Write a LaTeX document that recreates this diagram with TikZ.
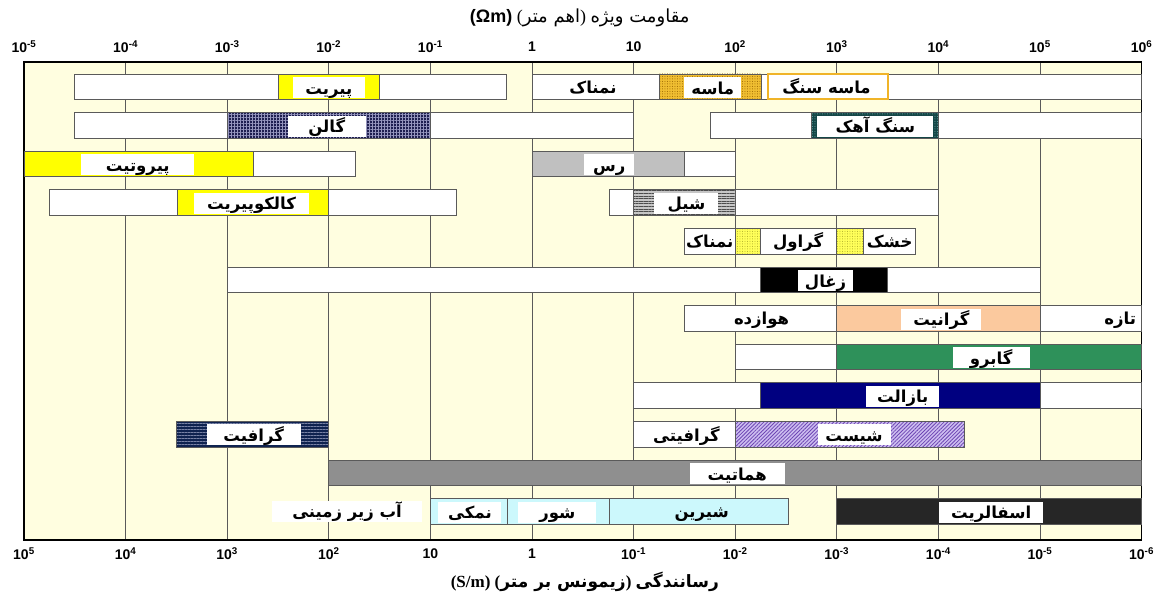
\documentclass[tikz,border=0pt]{standalone}
\usepackage{fontspec}
\setmainfont{Liberation Serif}
\setsansfont{Liberation Sans}
\newfontfamily\fa[Script=Arabic]{DejaVu Sans}
\usetikzlibrary{patterns.meta}
\TeXXeTstate=1

\definecolor{cream}{RGB}{255,254,224}
\definecolor{barline}{RGB}{90,90,90}
\definecolor{pyr}{RGB}{255,255,0}
\definecolor{sand}{RGB}{240,190,50}
\definecolor{sanddot}{RGB}{150,100,0}
\definecolor{sandline}{RGB}{240,180,40}
\definecolor{galena}{RGB}{30,30,80}
\definecolor{galgrid}{RGB}{150,150,190}
\definecolor{lime}{RGB}{20,70,70}
\definecolor{limedot}{RGB}{110,170,170}
\definecolor{clay}{RGB}{192,192,192}
\definecolor{gravel}{RGB}{255,255,90}
\definecolor{graveldot}{RGB}{170,170,40}
\definecolor{granite}{RGB}{251,201,158}
\definecolor{gabbro}{RGB}{46,145,90}
\definecolor{basalt}{RGB}{0,0,128}
\definecolor{graphite}{RGB}{15,35,80}
\definecolor{graphline}{RGB}{120,130,165}
\definecolor{schist}{RGB}{205,190,240}
\definecolor{schline}{RGB}{110,70,180}
\definecolor{hematite}{RGB}{143,143,143}
\definecolor{water}{RGB}{204,248,252}
\definecolor{sphal}{RGB}{38,38,38}

% persian text, right to left
\newcommand{\fatext}[1]{{\fa\bfseries\beginR #1\endR}}
% one bar segment: row, from, to (decades)
\newcommand{\seg}[4][]{\draw[bar,#1] (#3,#2) rectangle (#4,{#2+0.66});}

\begin{document}
\begin{tikzpicture}[x=101.6pt, y=-38.6pt,
  bar/.style={draw=barline, line width=0.7pt},
  lbl/.style={fill=white, inner sep=1pt, minimum height=21pt, text height=15pt, text depth=2pt,
    font=\fontsize{16.5}{18}\selectfont},
  txt/.style={inner sep=1pt, text height=15pt, text depth=2pt, font=\fontsize{16.5}{18}\selectfont},
  tick/.style={font=\sffamily\bfseries\fontsize{14}{16}\selectfont},
  sandseg/.style={preaction={fill=sand}, pattern={Dots[distance=2.5pt,radius=0.5pt]}, pattern color=sanddot},
  galseg/.style={preaction={fill=galena}, pattern={Hatch[angle=0,distance=3pt,line width=0.5pt]}, pattern color=galgrid},
  limeseg/.style={preaction={fill=lime}, pattern={Dots[distance=2.5pt,radius=0.5pt]}, pattern color=limedot},
  shaleseg/.style={preaction={fill=gray!45}, pattern={Lines[angle=0,distance=2.6pt,line width=1.1pt]}, pattern color=black!70},
  gravseg/.style={preaction={fill=gravel}, pattern={Dots[distance=2.5pt,radius=0.45pt]}, pattern color=graveldot},
  graphseg/.style={preaction={fill=graphite}, pattern={Lines[angle=0,distance=3pt,line width=0.5pt]}, pattern color=graphline},
  schseg/.style={preaction={fill=schist}, pattern={Lines[angle=45,distance=2.6pt,line width=0.8pt]}, pattern color=schline}]

\useasboundingbox (-0.236,-0.917) rectangle (11.152,14.47);

% frame and grid
\fill[cream] (0,0.689) rectangle (11,13.07);
\foreach \d in {1,...,10}
  \draw[barline, line width=0.7pt] (\d,0.689) -- (\d,13.07);
\draw[line width=1.5pt] (0,0.689) rectangle (11,13.07);

% axes
\foreach \d/\t in {0/10\textsuperscript{-5},1/10\textsuperscript{-4},2/10\textsuperscript{-3},
    3/10\textsuperscript{-2},4/10\textsuperscript{-1},5/1,6/10,7/10\textsuperscript{2},
    8/10\textsuperscript{3},9/10\textsuperscript{4},10/10\textsuperscript{5},11/10\textsuperscript{6}}
  \node[tick] (top\d) at (\d,0.30) {\t};
\foreach \d/\t in {0/10\textsuperscript{5},1/10\textsuperscript{4},2/10\textsuperscript{3},
    3/10\textsuperscript{2},4/10,5/1,6/10\textsuperscript{-1},7/10\textsuperscript{-2},
    8/10\textsuperscript{-3},9/10\textsuperscript{-4},10/10\textsuperscript{-5},11/10\textsuperscript{-6}}
  \node[tick] (bot\d) at (\d,13.42) {\t};
\node[font=\fontsize{18}{20}\selectfont] (restitle) at (5.47,-0.45)
  {\textsf{\bfseries(Ωm)}\ ({\fa\beginR اهم متر\endR})\ {\fa\beginR مقاومت ویژه\endR}};
\node[font=\fontsize{17}{19}\selectfont\bfseries] (condtitle) at (5.52,14.15)
  {(S/m)\ ({\fa\beginR زیمونس بر متر\endR})\ {\fa\beginR رسانندگی\endR}};

% row 1
\seg[fill=white]{1}{0.5}{4.75}
\seg[fill=pyr]{1}{2.5}{3.5}
\node[lbl, minimum width=72pt] (pyrite) at (3.0,1.35) {\fatext{پیریت}};
\seg[fill=white]{1}{5}{11}
\node[txt] (wet1) at (5.6,1.33) {\fatext{نمناک}};
\seg[sandseg]{1}{6.25}{7.26}
\node[lbl, minimum width=57pt] (sand) at (6.78,1.35) {\fatext{ماسه}};
\seg[draw=sandline, line width=2pt, fill=white]{1}{7.32}{8.5}
\node[txt] (sandstone) at (7.9,1.33) {\fatext{ماسه سنگ}};

% row 2
\seg[fill=white]{2}{0.5}{6}
\seg[galseg]{2}{2}{4}
\node[lbl, minimum width=78pt] (galena) at (2.98,2.35) {\fatext{گالن}};
\seg[fill=white]{2}{6.76}{11}
\seg[limeseg]{2}{7.75}{9}
\node[lbl, minimum width=116pt] (limestone) at (8.38,2.36) {\fatext{سنگ آهک}};

% row 3
\seg[fill=pyr]{3}{0}{2.26}
\seg[fill=white]{3}{2.26}{3.26}
\node[lbl, minimum width=113pt] (pyrrhotite) at (1.12,3.35) {\fatext{پیروتیت}};
\seg[fill=clay]{3}{5}{6.5}
\seg[fill=white]{3}{6.5}{7}
\node[lbl, minimum width=50pt] (clay) at (5.76,3.35) {\fatext{رس}};

% row 4
\seg[fill=white]{4}{0.25}{4.26}
\seg[fill=pyr]{4}{1.51}{3}
\node[lbl, minimum width=115pt] (chalco) at (2.24,4.35) {\fatext{کالکوپیریت}};
\seg[fill=white]{4}{5.76}{9}
\seg[shaleseg]{4}{6}{7}
\node[lbl, minimum width=64pt] (shale) at (6.52,4.35) {\fatext{شیل}};

% row 5
\seg[fill=white]{5}{6.5}{8.77}
\seg[gravseg]{5}{7}{7.25}
\seg[gravseg]{5}{8}{8.26}
\node[txt] (wet2) at (6.75,5.33) {\fatext{نمناک}};
\node[txt] (gravel) at (7.62,5.33) {\fatext{گراول}};
\node[txt] (dry) at (8.52,5.33) {\fatext{خشک}};

% row 6
\seg[fill=white]{6}{2}{10}
\seg[fill=black]{6}{7.25}{8.5}
\node[lbl, minimum width=55pt] (coal) at (7.89,6.35) {\fatext{زغال}};

% row 7
\seg[fill=white]{7}{6.5}{8}
\seg[fill=granite]{7}{8}{10}
\seg[fill=white]{7}{10}{11}
\node[txt] (weathered) at (7.26,7.33) {\fatext{هوازده}};
\node[lbl, minimum width=80pt] (granite) at (9.03,7.35) {\fatext{گرانیت}};
\node[txt] (fresh) at (10.79,7.33) {\fatext{تازه}};

% row 8
\seg[fill=white]{8}{7}{8}
\seg[fill=gabbro]{8}{8}{11}
\node[lbl, minimum width=77pt] (gabbro) at (9.52,8.35) {\fatext{گابرو}};

% row 9
\seg[fill=white]{9}{6}{7.25}
\seg[fill=basalt]{9}{7.25}{10}
\seg[fill=white]{9}{10}{11}
\node[lbl, minimum width=73pt] (basalt) at (8.65,9.35) {\fatext{بازالت}};

% row 10
\seg[graphseg]{10}{1.5}{3}
\node[lbl, minimum width=94pt] (graphite) at (2.26,10.35) {\fatext{گرافیت}};
\seg[fill=white]{10}{6}{7}
\node[txt] (graphitic) at (6.52,10.35) {\fatext{گرافیتی}};
\seg[schseg]{10}{7}{9.26}
\node[lbl, minimum width=73pt] (schist) at (8.17,10.35) {\fatext{شیست}};

% row 11
\seg[fill=hematite]{11}{3}{11}
\node[lbl, minimum width=95pt] (hematite) at (7.02,11.35) {\fatext{هماتیت}};

% row 12
\node[lbl, minimum width=150pt] (ground) at (3.18,12.33) {\fatext{آب زیر زمینی}};
\seg[fill=water]{12}{4}{4.76}
\seg[fill=water]{12}{4.76}{5.76}
\seg[fill=water]{12}{5.76}{7.52}
\node[lbl, minimum width=63pt] (salty) at (4.39,12.35) {\fatext{نمکی}};
\node[lbl, minimum width=78pt] (brackish) at (5.25,12.35) {\fatext{شور}};
\node[txt] (freshw) at (6.67,12.33) {\fatext{شیرین}};
\seg[fill=sphal]{12}{8}{11}
\node[lbl, minimum width=104pt] (sphalerite) at (9.52,12.35) {\fatext{اسفالریت}};
\end{tikzpicture}
\end{document}
